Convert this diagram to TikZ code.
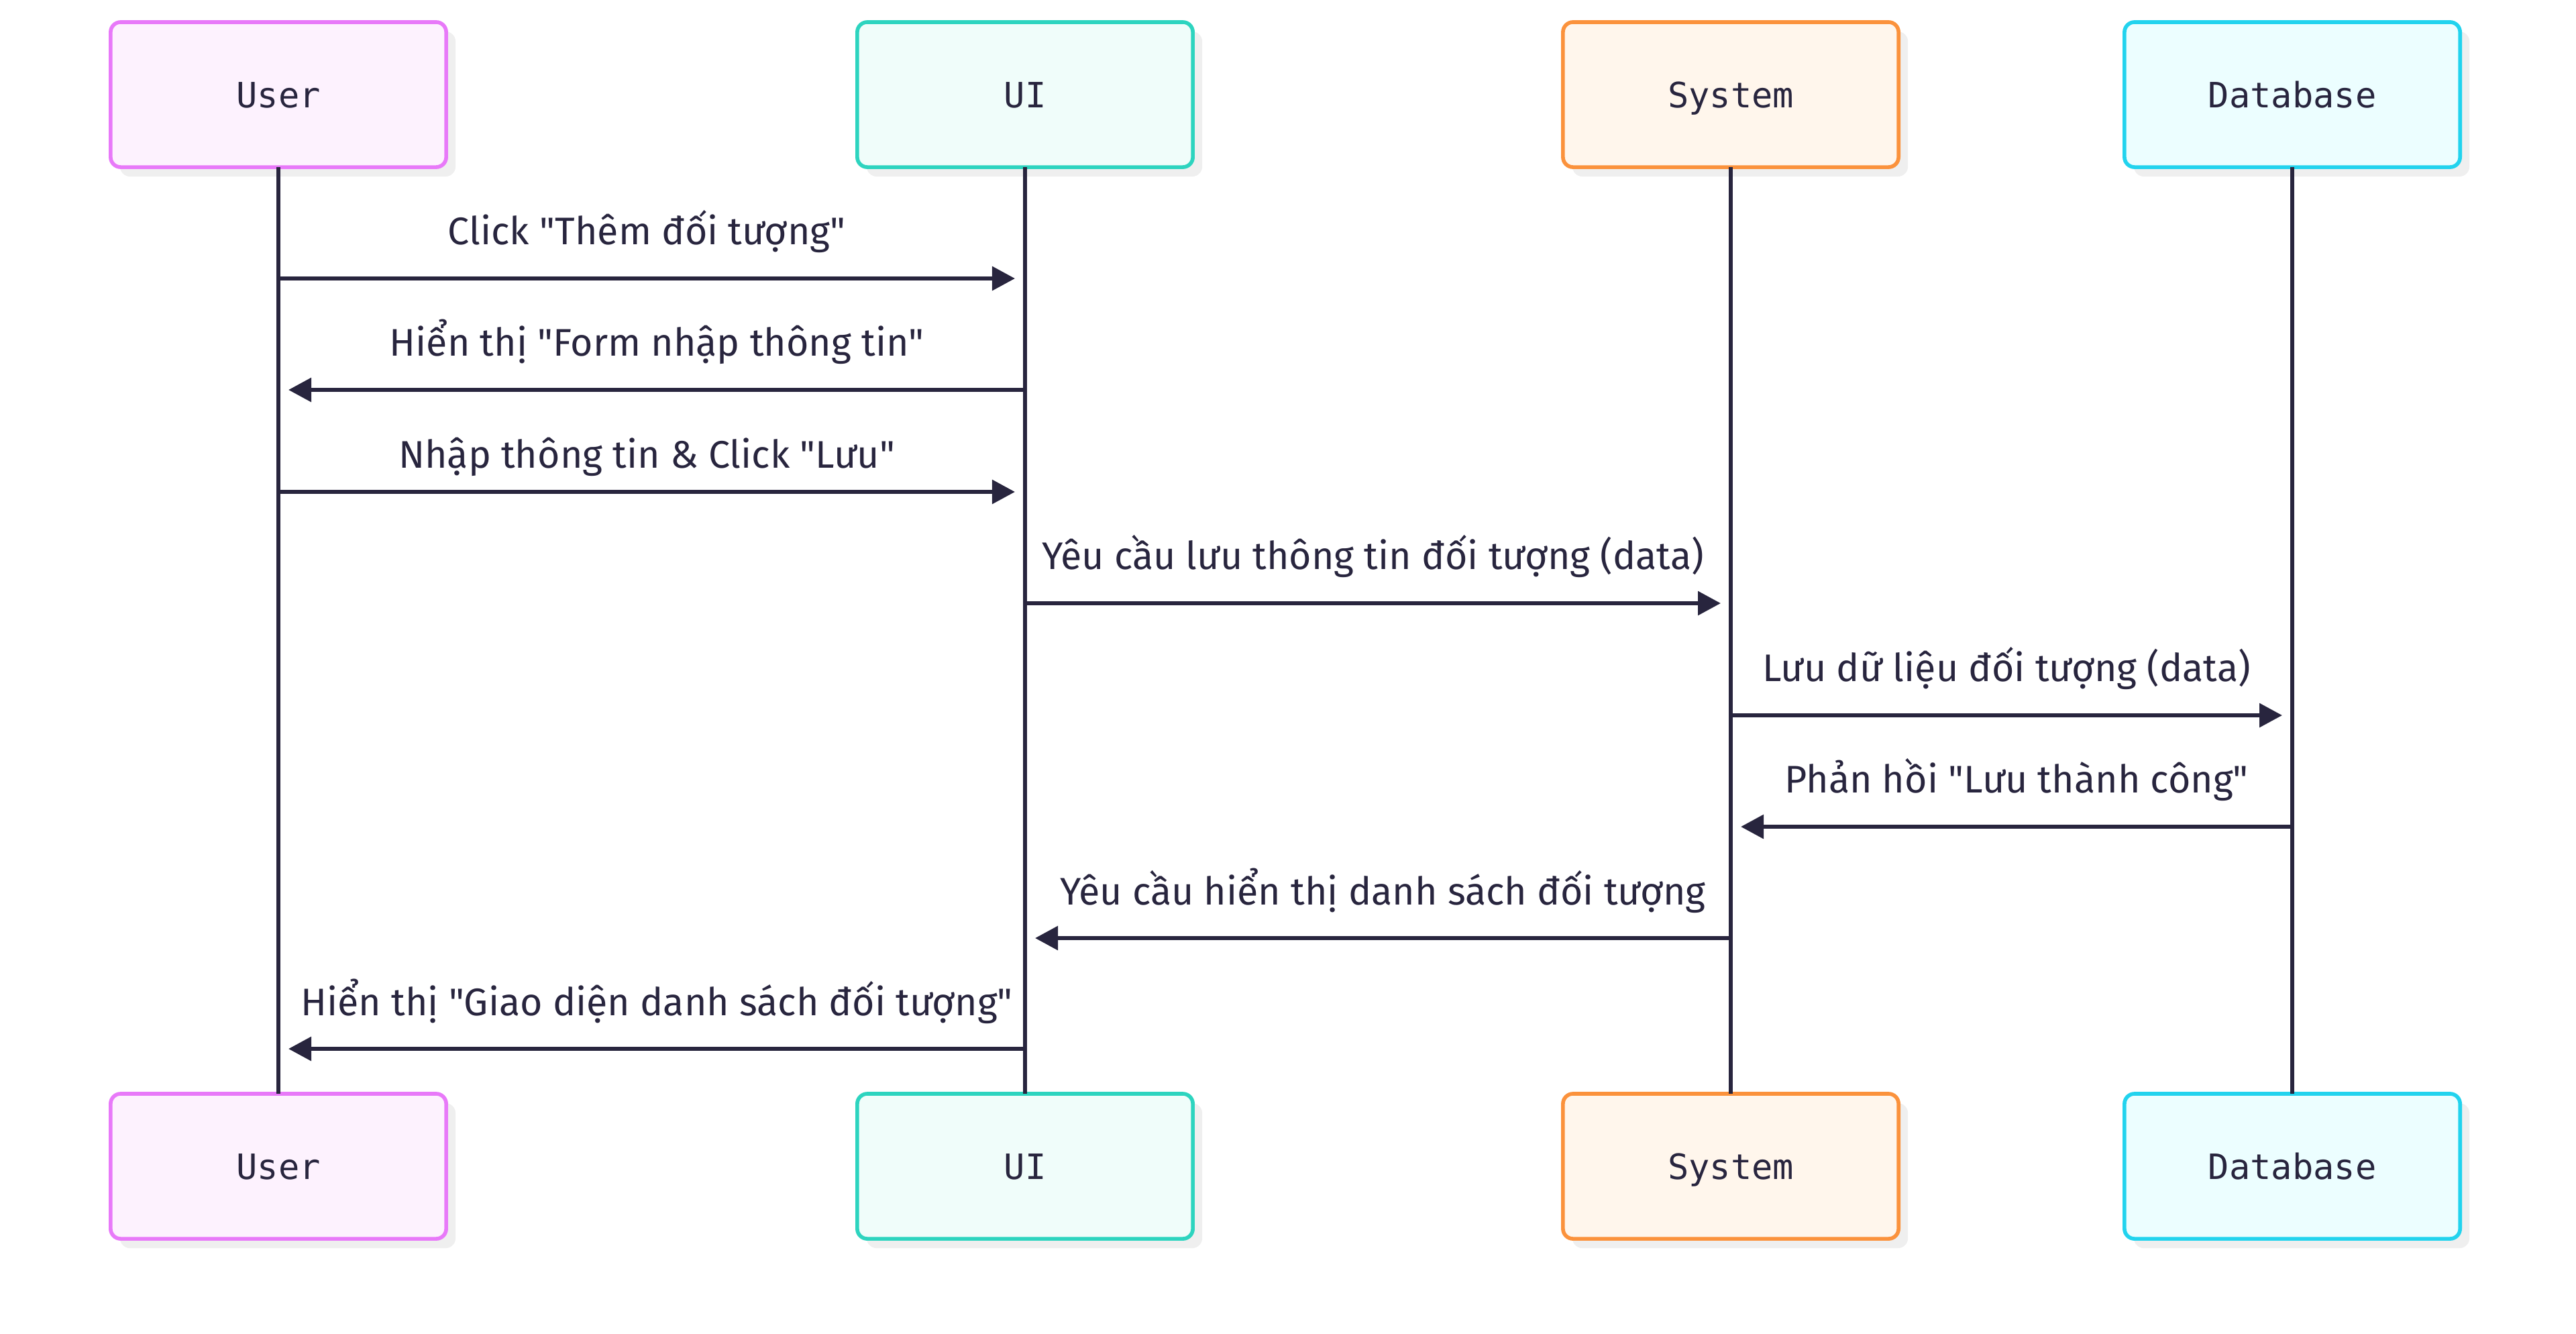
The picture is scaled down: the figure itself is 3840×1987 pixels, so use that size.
\documentclass[tikz,border=0pt]{standalone}
\usepackage{fontspec}
\setmainfont[Ligatures=TeXOff]{Fira Sans}
\newfontfamily\actorfont{DejaVu Sans Mono}
\usetikzlibrary{arrows.meta, shadows}

\definecolor{ink}{HTML}{28253E}
\definecolor{shade}{HTML}{EFEFEF}
\definecolor{userline}{HTML}{E879F9}
\definecolor{userfill}{HTML}{FDF2FE}
\definecolor{uiline}{HTML}{2DD4BF}
\definecolor{uifill}{HTML}{F0FDFA}
\definecolor{sysline}{HTML}{FB923C}
\definecolor{sysfill}{HTML}{FFF6EC}
\definecolor{dbline}{HTML}{22D3EE}
\definecolor{dbfill}{HTML}{ECFEFF}

\tikzstyle{actor} = [rectangle, rounded corners=0.15cm, minimum width=5cm, minimum height=2.16cm, inner sep=0pt, outer sep=0pt, text height=0.38cm, text depth=0pt, line width=1.6pt, text=ink, font=\actorfont\fontsize{14.8}{17}\selectfont, drop shadow={shadow xshift=0.14cm, shadow yshift=-0.14cm, fill=shade, opacity=1}]
\tikzstyle{life} = [draw=ink, line width=1.6pt]
\tikzstyle{msg} = [draw=ink, line width=1.7pt, -{Triangle[length=0.34cm, width=0.35cm]}]
\tikzstyle{lbl} = [text=ink, font=\fontsize{16.3}{19}\selectfont, anchor=base, inner sep=0pt]

\begin{document}
\begin{tikzpicture}[x=0.01cm, y=-0.01cm]
\useasboundingbox (0,0) rectangle (3840,1987);

% participants
\node (user) [actor, draw=userline, fill=userfill] at (415,141) {User};
\node (ui) [actor, draw=uiline, fill=uifill] at (1528,141) {UI};
\node (sys) [actor, draw=sysline, fill=sysfill] at (2580,141) {System};
\node (db) [actor, draw=dbline, fill=dbfill] at (3417,141) {Database};

\node (userB) [actor, draw=userline, fill=userfill] at (415,1738) {User};
\node (uiB) [actor, draw=uiline, fill=uifill] at (1528,1738) {UI};
\node (sysB) [actor, draw=sysline, fill=sysfill] at (2580,1738) {System};
\node (dbB) [actor, draw=dbline, fill=dbfill] at (3417,1738) {Database};

% lifelines
\draw [life] (user) -- (userB);
\draw [life] (ui) -- (uiB);
\draw [life] (sys) -- (sysB);
\draw [life] (db) -- (dbB);

% message rows
\coordinate (r1) at (0,415);
\coordinate (r2) at (0,581);
\coordinate (r3) at (0,733);
\coordinate (r4) at (0,899);
\coordinate (r5) at (0,1066);
\coordinate (r6) at (0,1232);
\coordinate (r7) at (0,1398);
\coordinate (r8) at (0,1563);

\draw [msg] (user |- r1) -- ([xshift=-0.15cm]ui |- r1) node [lbl, midway, yshift=0.5cm] {Click "Thêm đối tượng"};
\draw [msg] (ui |- r2) -- ([xshift=0.15cm]user |- r2) node [lbl, midway, yshift=0.5cm] {Hiển thị "Form nhập thông tin"};
\draw [msg] (user |- r3) -- ([xshift=-0.15cm]ui |- r3) node [lbl, midway, yshift=0.35cm] {Nhập thông tin \& Click "Lưu"};
\draw [msg] (ui |- r4) -- ([xshift=-0.15cm]sys |- r4) node [lbl, midway, yshift=0.5cm] {Yêu cầu lưu thông tin đối tượng (data)};
\draw [msg] (sys |- r5) -- ([xshift=-0.15cm]db |- r5) node [lbl, midway, yshift=0.5cm] {Lưu dữ liệu đối tượng (data)};
\draw [msg] (db |- r6) -- ([xshift=0.15cm]sys |- r6) node [lbl, midway, yshift=0.5cm] {Phản hồi "Lưu thành công"};
\draw [msg] (sys |- r7) -- ([xshift=0.15cm]ui |- r7) node [lbl, midway, yshift=0.5cm] {Yêu cầu hiển thị danh sách đối tượng};
\draw [msg] (ui |- r8) -- ([xshift=0.15cm]user |- r8) node [lbl, midway, yshift=0.5cm] {Hiển thị "Giao diện danh sách đối tượng"};
\end{tikzpicture}
\end{document}
